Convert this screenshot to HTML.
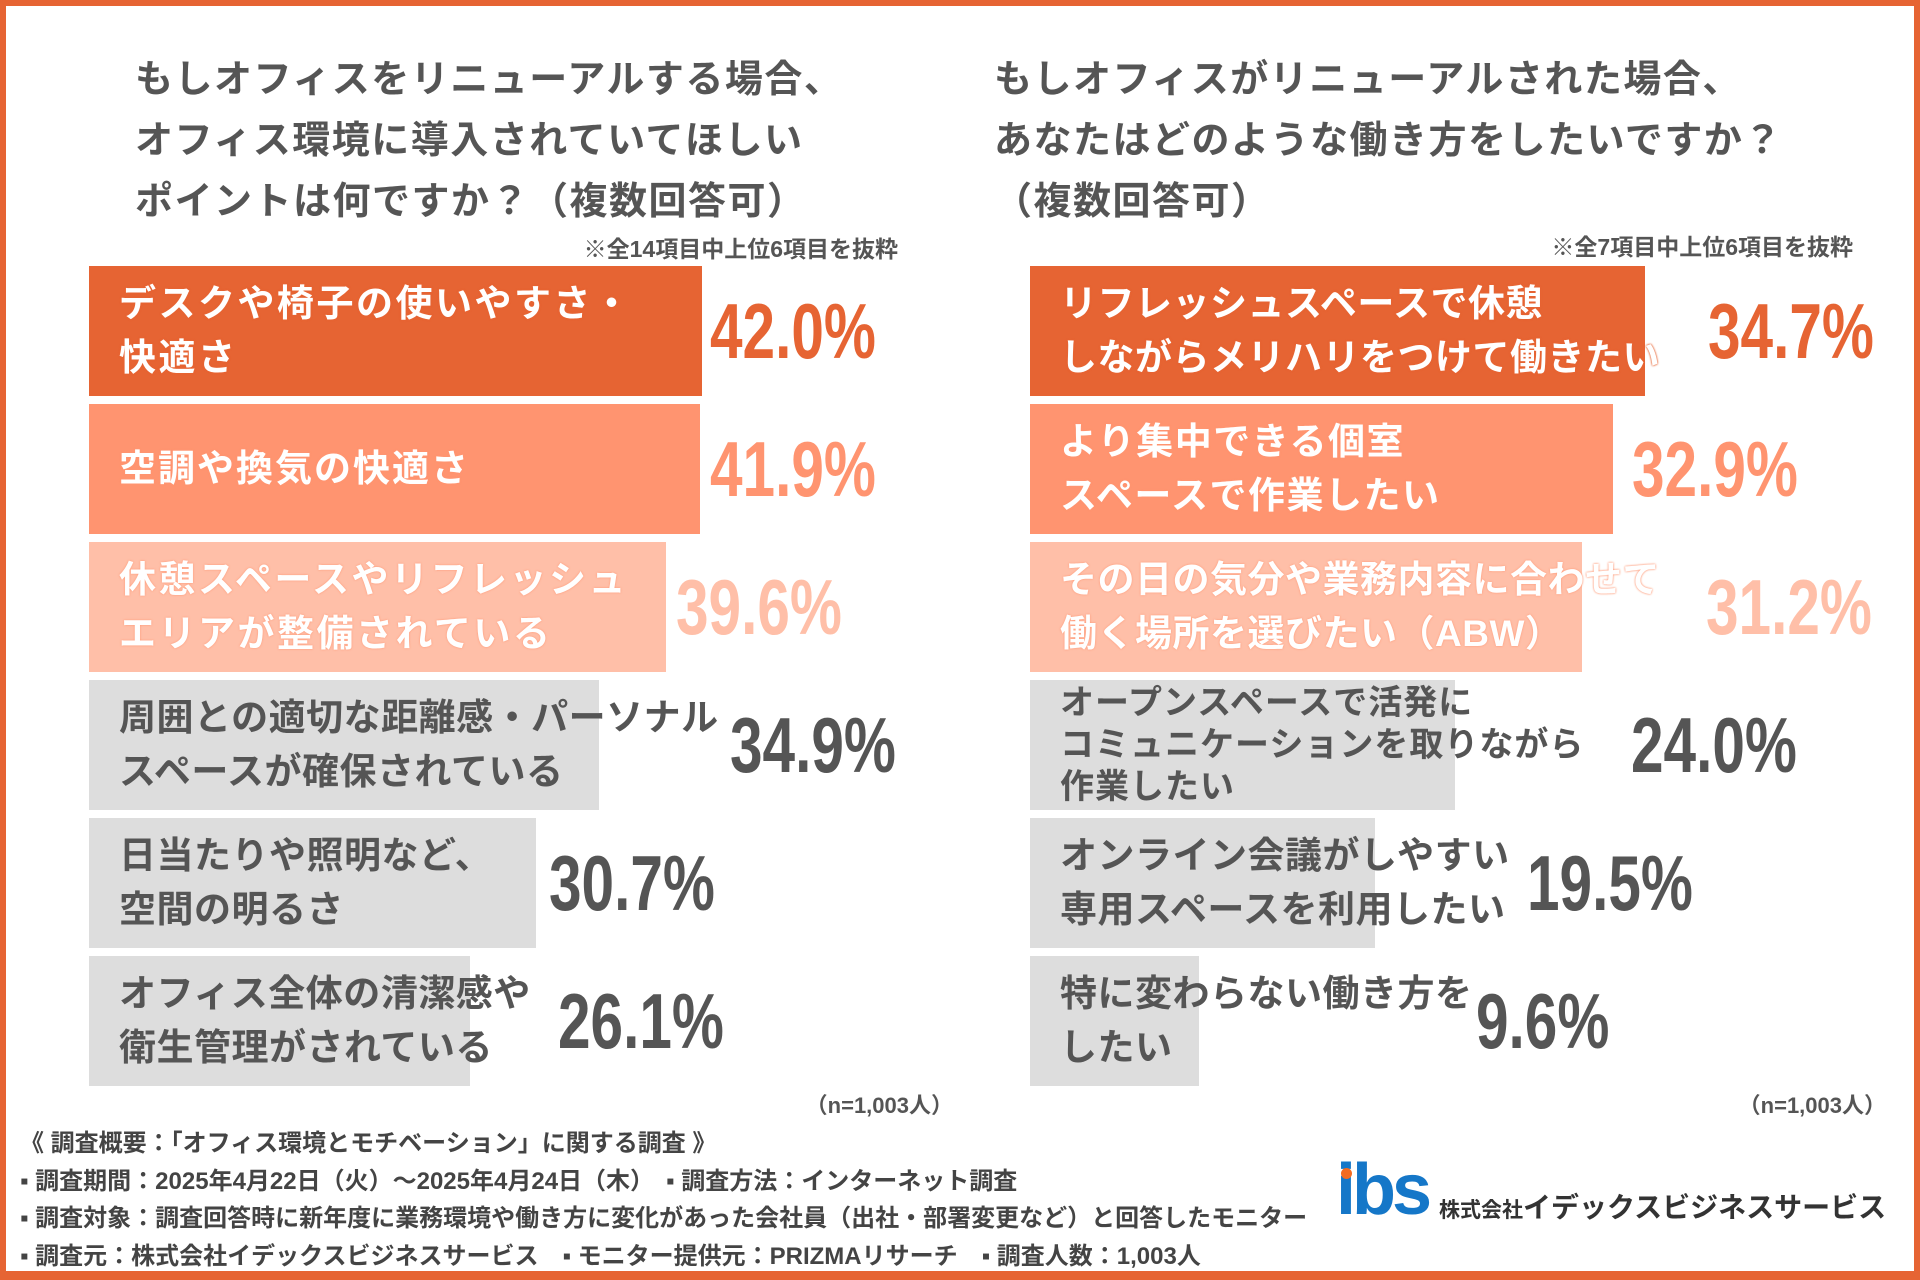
<!DOCTYPE html>
<html><head><meta charset="utf-8"><style>
*{margin:0;padding:0;box-sizing:border-box}
body{width:1920px;height:1280px;position:relative;background:#fff;overflow:hidden;font-family:"Liberation Sans","Noto Sans CJK JP",sans-serif;font-weight:bold;color:#555}
.frame{position:absolute;left:0;top:0;width:1920px;height:1280px;border:6px solid #E66433;border-bottom-width:9px;z-index:5}
.t{position:absolute;white-space:nowrap}
.title{font-size:38px;letter-spacing:1.5px;line-height:61px;color:#555}
.note{font-size:21px;color:#555}
.bar{position:absolute;height:130px;display:flex;flex-direction:column;justify-content:center;padding-left:30px;font-size:37px;letter-spacing:0.5px;line-height:54px;white-space:nowrap}
.c1{background:#E66433;color:#fff;text-shadow:0 0 2px #E66433,0 0 2px #E66433}
.c2{background:#FF9470;color:#fff;text-shadow:0 0 2px #FF9470,0 0 2px #FF9470}
.c3{background:#FFBFA8;color:#fff;text-shadow:0 0 2px #FF9470,0 0 2px #FFBFA8}
.c4{background:#DDDDDD;color:#555}
.pct{position:absolute;font-size:78px;transform:scaleX(0.75);transform-origin:left center;line-height:130px;white-space:nowrap;font-family:"Liberation Sans",sans-serif}
.f{position:absolute;left:20px;font-size:24px;white-space:nowrap;color:#444}
</style></head><body>
<div class="frame"></div>
<div class="t title" style="left:135px;top:50px">もしオフィスをリニューアルする場合、<br>オフィス環境に導入されていてほしい<br>ポイントは何ですか？（複数回答可）</div>
<div class="t note" style="right:1022px;top:230px;font-size:23px">※全14項目中上位6項目を抜粋</div>
<div class="t title" style="left:994px;top:50px">もしオフィスがリニューアルされた場合、<br>あなたはどのような働き方をしたいですか？<br>（複数回答可）</div>
<div class="t note" style="right:67px;top:228px;font-size:23px">※全7項目中上位6項目を抜粋</div>

<div class="bar c1" style="left:89px;top:266px;width:613px;letter-spacing:2.5px">デスクや椅子の使いやすさ・<br>快適さ</div>
<div class="bar c2" style="left:89px;top:404px;width:611px;letter-spacing:2px">空調や換気の快適さ</div>
<div class="bar c3" style="left:89px;top:542px;width:577px;letter-spacing:2.5px">休憩スペースやリフレッシュ<br>エリアが整備されている</div>
<div class="bar c4" style="left:89px;top:680px;width:510px">周囲との適切な距離感・パーソナル<br>スペースが確保されている</div>
<div class="bar c4" style="left:89px;top:818px;width:447px">日当たりや照明など、<br>空間の明るさ</div>
<div class="bar c4" style="left:89px;top:956px;width:381px">オフィス全体の清潔感や<br>衛生管理がされている</div>

<div class="pct" style="left:710px;top:266px;color:#E66433">42.0%</div>
<div class="pct" style="left:710px;top:404px;color:#FF9470">41.9%</div>
<div class="pct" style="left:676px;top:542px;color:#FFBFA8">39.6%</div>
<div class="pct" style="left:730px;top:680px;color:#555">34.9%</div>
<div class="pct" style="left:549px;top:818px;color:#555">30.7%</div>
<div class="pct" style="left:558px;top:956px;color:#555">26.1%</div>

<div class="bar c1" style="left:1030px;top:266px;width:615px">リフレッシュスペースで休憩<br>しながらメリハリをつけて働きたい</div>
<div class="bar c2" style="left:1030px;top:404px;width:583px;letter-spacing:1.5px">より集中できる個室<br>スペースで作業したい</div>
<div class="bar c3" style="left:1030px;top:542px;width:552px">その日の気分や業務内容に合わせて<br>働く場所を選びたい（ABW）</div>
<div class="bar c4" style="left:1030px;top:680px;width:425px;font-size:34px;line-height:42px;letter-spacing:1px">オープンスペースで活発に<br>コミュニケーションを取りながら<br>作業したい</div>
<div class="bar c4" style="left:1030px;top:818px;width:345px">オンライン会議がしやすい<br>専用スペースを利用したい</div>
<div class="bar c4" style="left:1030px;top:956px;width:169px">特に変わらない働き方を<br>したい</div>

<div class="pct" style="left:1708px;top:266px;color:#E66433">34.7%</div>
<div class="pct" style="left:1632px;top:404px;color:#FF9470">32.9%</div>
<div class="pct" style="left:1706px;top:542px;color:#FFBFA8">31.2%</div>
<div class="pct" style="left:1631px;top:680px;color:#555">24.0%</div>
<div class="pct" style="left:1527px;top:818px;color:#555">19.5%</div>
<div class="pct" style="left:1476px;top:956px;color:#555">9.6%</div>

<div class="t note" style="right:967px;top:1088px;font-size:22px">（n=1,003人）</div>
<div class="t note" style="right:34px;top:1088px;font-size:22px">（n=1,003人）</div>

<div class="f" style="top:1123px">《 調査概要：「オフィス環境とモチベーション」に関する調査 》</div>
<div class="f" style="top:1161px">▪ 調査期間：2025年4月22日（火）～2025年4月24日（木）　▪ 調査方法：インターネット調査</div>
<div class="f" style="top:1198px">▪ 調査対象：調査回答時に新年度に業務環境や働き方に変化があった会社員（出社・部署変更など）と回答したモニター</div>
<div class="f" style="top:1236px">▪ 調査元：株式会社イデックスビジネスサービス　▪ モニター提供元：PRIZMAリサーチ　▪ 調査人数：1,003人</div>

<div class="t" style="left:1336px;top:1150px;font-size:72px;color:#1577C8;font-family:'Liberation Sans',sans-serif;letter-spacing:-4px;line-height:80px">ibs</div>
<div style="position:absolute;left:1341px;top:1168px;width:11px;height:11px;border-radius:50%;background:#F26B22"></div>
<div class="t" style="left:1439px;top:1186px;font-size:28px;color:#333"><span style="font-size:21px">株式会社</span>イデックスビジネスサービス</div>
</body></html>
